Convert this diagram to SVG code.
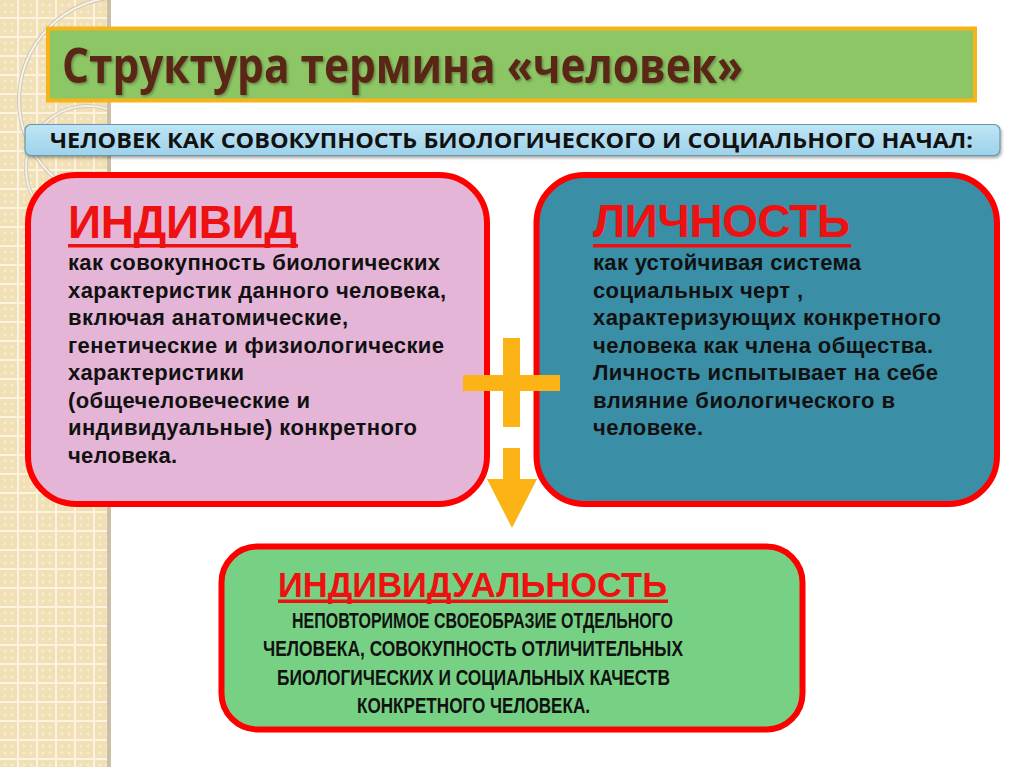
<svg xmlns="http://www.w3.org/2000/svg" width="1024" height="767" viewBox="0 0 1024 767">
  <defs>
    <pattern id="grid" x="0" y="0" width="19" height="19" patternUnits="userSpaceOnUse">
      <rect width="19" height="19" fill="#f1e0b6"/>
      <circle cx="5" cy="5" r="1.6" fill="#f8ecd0"/>
      <circle cx="12" cy="5" r="1.6" fill="#f8ecd0"/>
      <circle cx="5" cy="12" r="1.6" fill="#f8ecd0"/>
      <circle cx="12" cy="12" r="1.6" fill="#f8ecd0"/>
      <rect x="17" y="0" width="2" height="19" fill="#fbf3e0"/>
      <rect x="0" y="17" width="19" height="2" fill="#fbf3e0"/>
    </pattern>
    <linearGradient id="subGrad" x1="0" y1="0" x2="0" y2="1">
      <stop offset="0" stop-color="#bfe5f5"/>
      <stop offset="1" stop-color="#9dd2ea"/>
    </linearGradient>
    <clipPath id="leftClip">
      <rect x="0" y="0" width="108" height="767"/>
    </clipPath>
    <filter id="shadow" x="-5%" y="-20%" width="110%" height="150%">
      <feDropShadow dx="1" dy="2" stdDeviation="1.5" flood-color="#000" flood-opacity="0.35"/>
    </filter>
    <filter id="txtShadow" x="-5%" y="-20%" width="110%" height="150%">
      <feDropShadow dx="1.5" dy="1.5" stdDeviation="1" flood-color="#000" flood-opacity="0.3"/>
    </filter>
  </defs>
  <style>
    .box { stroke: #ff0000; stroke-width: 6; }
    .head { font-family: "Liberation Sans", Arial, sans-serif; font-weight: bold; fill: #ee1111; }
    .body { font-family: "Liberation Sans", Arial, sans-serif; font-weight: bold; font-size: 22px; fill: #111111; }
    .caps { font-family: "Liberation Sans Narrow", "Liberation Sans", Arial, sans-serif; font-weight: bold; font-size: 22px; fill: #111111; }
    .ul { fill: #ee1111; }
    .orange { fill: #fbb316; }
  </style>

  <!-- background -->
  <rect x="0" y="0" width="1024" height="767" fill="#ffffff"/>
  <rect x="0" y="0" width="108" height="767" fill="url(#grid)"/>
  <g clip-path="url(#leftClip)" fill="none">
    <circle cx="122" cy="100" r="103" stroke="#cfc6b2" stroke-width="4"/>
    <circle cx="122" cy="100" r="103" stroke="#f7f3ea" stroke-width="2"/>
    <circle cx="88" cy="168" r="62" stroke="#d5ccb8" stroke-width="4"/>
    <circle cx="88" cy="168" r="62" stroke="#f3eee3" stroke-width="2"/>
  </g>
  <rect x="107" y="0" width="4" height="767" fill="#cbbfa6"/>

  <!-- title -->
  <g id="title">
    <rect x="48" y="28.5" width="927" height="72" fill="#8dc665" stroke="#f7b318" stroke-width="4"/>
    <text x="62" y="83" font-family="'Open Sans', 'Liberation Sans', sans-serif" font-weight="bold" font-size="48" fill="#5a2618" textLength="681" lengthAdjust="spacingAndGlyphs" filter="url(#txtShadow)">Структура термина «человек»</text>
  </g>

  <!-- subtitle bar -->
  <g id="subtitle">
    <rect x="25" y="124.5" width="975" height="31" rx="6" fill="url(#subGrad)" stroke="#6b97aa" stroke-width="1.2" filter="url(#shadow)"/>
    <text x="50" y="147.5" font-family="'Open Sans', 'Liberation Sans', sans-serif" font-weight="bold" font-size="22" fill="#111111" textLength="923" lengthAdjust="spacingAndGlyphs">ЧЕЛОВЕК КАК СОВОКУПНОСТЬ БИОЛОГИЧЕСКОГО И СОЦИАЛЬНОГО НАЧАЛ:</text>
  </g>

  <!-- left box: individ -->
  <g id="individ">
    <rect class="box" x="28" y="175" width="459" height="329" rx="48" fill="#e5b5d7"/>
    <text class="head" x="68" y="238" font-size="46" textLength="229">ИНДИВИД</text>
    <rect class="ul" x="68" y="244" width="230" height="3.5"/>
    <text class="body" x="68" y="270" textLength="372">как совокупность биологических</text>
    <text class="body" x="68" y="297.5" textLength="378">характеристик данного человека,</text>
    <text class="body" x="68" y="325" textLength="280">включая анатомические,</text>
    <text class="body" x="68" y="352.5" textLength="376">генетические и физиологические</text>
    <text class="body" x="68" y="380" textLength="176">характеристики</text>
    <text class="body" x="68" y="407.5" textLength="242">(общечеловеческие и</text>
    <text class="body" x="68" y="435" textLength="349">индивидуальные) конкретного</text>
    <text class="body" x="68" y="462.5" textLength="109">человека.</text>
  </g>

  <!-- right box: lichnost -->
  <g id="lichnost">
    <rect class="box" x="536.5" y="175" width="460.5" height="329" rx="48" fill="#3a8ea6"/>
    <text class="head" x="593" y="237" font-size="46" textLength="257">ЛИЧНОСТЬ</text>
    <rect class="ul" x="593" y="244" width="258" height="3.5"/>
    <text class="body" x="593" y="270" textLength="268">как устойчивая система</text>
    <text class="body" x="593" y="297.5" textLength="210">социальных черт ,</text>
    <text class="body" x="593" y="325" textLength="348">характеризующих конкретного</text>
    <text class="body" x="593" y="352.5" textLength="340">человека как члена общества.</text>
    <text class="body" x="593" y="380" textLength="345">Личность испытывает на себе</text>
    <text class="body" x="593" y="407.5" textLength="302">влияние биологического в</text>
    <text class="body" x="593" y="435" textLength="110">человеке.</text>
  </g>

  <!-- bottom box: individualnost -->
  <g id="individualnost">
    <rect class="box" x="221.5" y="546.5" width="581" height="183" rx="36" fill="#77d184"/>
    <text class="head" x="472.5" y="597" font-size="35" text-anchor="middle" textLength="389" lengthAdjust="spacingAndGlyphs">ИНДИВИДУАЛЬНОСТЬ</text>
    <rect class="ul" x="278" y="599.5" width="390" height="3.5"/>
    <text class="caps" x="482.5" y="628" text-anchor="middle" textLength="381" lengthAdjust="spacingAndGlyphs">НЕПОВТОРИМОЕ СВОЕОБРАЗИЕ ОТДЕЛЬНОГО</text>
    <text class="caps" x="473" y="656" text-anchor="middle" textLength="420" lengthAdjust="spacingAndGlyphs">ЧЕЛОВЕКА, СОВОКУПНОСТЬ ОТЛИЧИТЕЛЬНЫХ</text>
    <text class="caps" x="473.5" y="684.5" text-anchor="middle" textLength="393" lengthAdjust="spacingAndGlyphs">БИОЛОГИЧЕСКИХ И СОЦИАЛЬНЫХ КАЧЕСТВ</text>
    <text class="caps" x="473.5" y="713" text-anchor="middle" textLength="233" lengthAdjust="spacingAndGlyphs">КОНКРЕТНОГО ЧЕЛОВЕКА.</text>
  </g>

  <!-- connectors: plus and arrow -->
  <g id="connectors">
    <rect class="orange" x="503" y="338" width="17" height="89"/>
    <rect class="orange" x="463" y="375" width="97" height="16"/>
    <rect class="orange" x="503" y="448" width="17" height="32"/>
    <polygon class="orange" points="487,479 537,479 512,528"/>
  </g>
</svg>
